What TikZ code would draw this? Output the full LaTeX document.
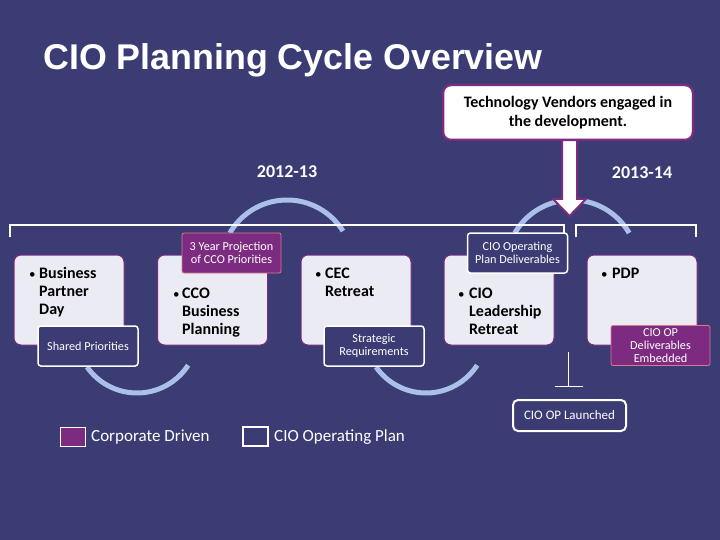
\documentclass[tikz,border=0pt]{standalone}
\usepackage{fontspec}
\setmainfont{Carlito}
\newfontfamily\titlefont{Liberation Sans}
\definecolor{bg}{RGB}{58,60,115}
\definecolor{boxfill}{RGB}{235,235,244}
\definecolor{purp}{RGB}{125,43,128}
\definecolor{arcblue}{RGB}{170,192,232}
\definecolor{pinkedge}{RGB}{220,120,140}
\begin{document}
\begin{tikzpicture}[x=1pt,y=-1pt,
  mainbox/.style={draw=purp, line width=1pt, fill=boxfill, rounded corners=7pt, minimum width=110pt, minimum height=90pt, inner sep=0pt},
  darktag/.style={draw=white, line width=1.5pt, fill=bg, rounded corners=3pt, minimum width=100pt, minimum height=40pt, inner sep=0pt, text=white, font=\fontsize{12.2}{13}\selectfont, align=center},
  purptag/.style={draw=pinkedge, line width=0.8pt, fill=purp, rounded corners=2pt, minimum width=99pt, minimum height=40pt, inner sep=0pt, text=white, font=\fontsize{12.2}{13}\selectfont, align=center},
  btext/.style={anchor=base west, inner sep=0pt, font=\bfseries\fontsize{16}{18}\selectfont, text=black},
  bdot/.style={anchor=base west, inner sep=0pt, font=\fontsize{13}{18}\selectfont, text=black},
  cyc/.style={draw=arcblue, line width=5pt},
  bracketline/.style={draw=white, line width=2pt},
  yearlabel/.style={text=white, font=\bfseries\fontsize{18}{20}\selectfont, inner sep=0pt},
  legendtext/.style={anchor=west, text=white, font=\fontsize{17}{20}\selectfont, inner sep=0pt},
]
\fill[bg] (0,0) rectangle (720,540);
\useasboundingbox (0,0) rectangle (720,540);

% cycle arcs
\draw[cyc] (287,266) ++(-150:66) arc[start angle=-150, end angle=-32, radius=66];
\draw[cyc] (572,266) ++(-150:66) arc[start angle=-150, end angle=-30, radius=66];
\draw[cyc] (137,332) ++(145:61) arc[start angle=145, end angle=33, radius=61];
\draw[cyc] (426,332) ++(145:61) arc[start angle=145, end angle=33, radius=61];

% brackets
\coordinate (l1) at (10,237); \coordinate (l2) at (10,225);
\coordinate (l3) at (564,225); \coordinate (l4) at (564,237);
\draw[bracketline] (l1) -- (l2) -- (l3) -- (l4);
\coordinate (r1) at (576,237); \coordinate (r2) at (576,225);
\coordinate (r3) at (696,225); \coordinate (r4) at (696,237);
\draw[bracketline] (r1) -- (r2) -- (r3) -- (r4);

% main boxes
\node[mainbox] (b1) at (69,300) {};
\node[mainbox] (b2) at (212.5,300) {};
\node[mainbox] (b3) at (356,300) {};
\node[mainbox] (b4) at (499,300) {};
\node[mainbox] (b5) at (642,300) {};

\node[bdot] (b1dot) at (29,278) {\textbullet};
\node[btext] (b1t) at (39,278) {\begin{tabular}[t]{@{}l@{}}Business\\Partner\\Day\end{tabular}};
\node[bdot] (b2dot) at (173,298) {\textbullet};
\node[btext] (b2t) at (182,298) {\begin{tabular}[t]{@{}l@{}}CCO\\Business\\Planning\end{tabular}};
\node[bdot] (b3dot) at (315,278) {\textbullet};
\node[btext] (b3t) at (325,278) {\begin{tabular}[t]{@{}l@{}}CEC\\Retreat\end{tabular}};
\node[bdot] (b4dot) at (458,298) {\textbullet};
\node[btext] (b4t) at (469,298) {\begin{tabular}[t]{@{}l@{}}CIO\\Leadership\\Retreat\end{tabular}};
\node[bdot] (b5dot) at (601,278) {\textbullet};
\node[btext] (b5t) at (612,278) {PDP};

% tags
\node[purptag] (proj) at (231.5,253) {3 Year Projection\\of CCO Priorities};
\node[darktag] (shared) at (88,346) {Shared Priorities};
\node[darktag] (strat) at (374,346) {Strategic\\Requirements};
\node[darktag] (deliv) at (517.5,253) {CIO Operating\\Plan Deliverables};
\node[purptag] (embed) at (660.5,345.5) {CIO OP\\Deliverables\\Embedded};

% big arrow
\draw[draw=purp, line width=2pt, fill=white, line join=miter]
  (562,138) -- (577,138) -- (577,199) -- (586,199) -- (569.5,216) -- (553,199) -- (562,199) -- cycle;

% technology vendors box
\node[draw=purp, line width=2.5pt, fill=white, rounded corners=8pt, minimum width=250pt, minimum height=55pt, inner sep=0pt, align=center, font=\bfseries\fontsize{16}{19}\selectfont] (tech) at (568,112.5) {Technology Vendors engaged in\\the development.};

% title and years
\node[anchor=base west, inner sep=0pt, text=white, font=\titlefont\bfseries\fontsize{35.8}{40}\selectfont] (title) at (43,70) {CIO Planning Cycle Overview};
\node[yearlabel] (y1) at (287,172) {2012-13};
\node[yearlabel] (y2) at (642,173) {2013-14};

% launch marker
\node[draw=white, line width=2pt, fill=bg, rounded corners=5pt, minimum width=113pt, minimum height=31pt, inner sep=0pt, text=white, font=\fontsize{13}{15}\selectfont] (launch) at (569.5,415.5) {CIO OP Launched};
\coordinate (tt) at (568,352);
\coordinate (tb) at (568,386);
\coordinate (tl) at (555,386);
\coordinate (tr) at (583,386);
\draw[white, line width=1pt] (tt) -- (tb);
\draw[white, line width=1pt] (tl) -- (tr);

% legend
\node[draw=white, line width=1pt, fill=purp, minimum width=25pt, minimum height=19pt, inner sep=0pt] (leg1) at (72.5,436.5) {};
\node[legendtext] (leg1t) at (91,437) {Corporate Driven};
\node[draw=white, line width=2pt, fill=bg, minimum width=25pt, minimum height=19pt, inner sep=0pt] (leg2) at (255.5,436.5) {};
\node[legendtext] (leg2t) at (274,437) {CIO Operating Plan};
\end{tikzpicture}
\end{document}
